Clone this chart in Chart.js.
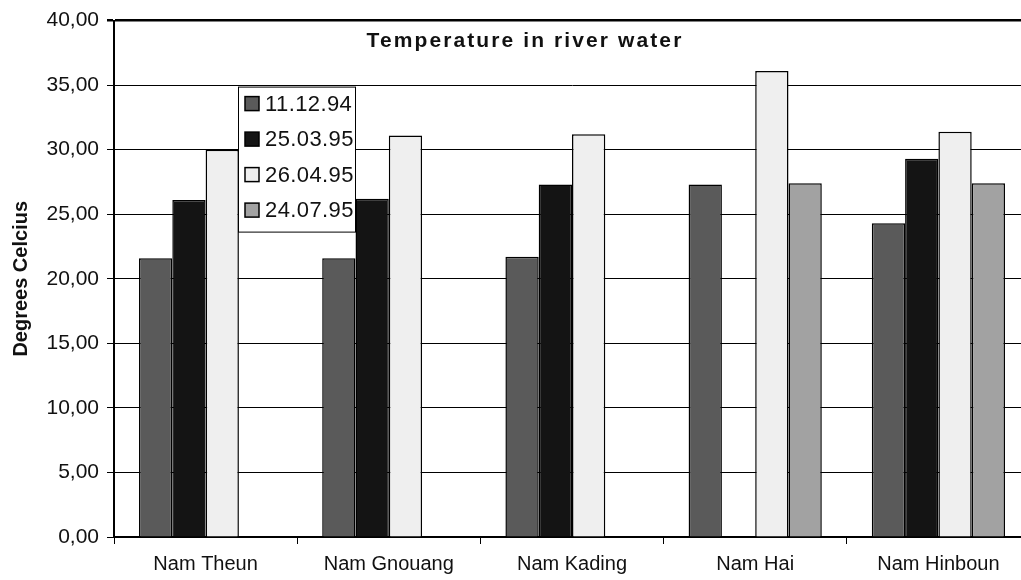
<!DOCTYPE html>
<html>
<head>
<meta charset="utf-8">
<script src="https://cdn.jsdelivr.net/npm/chart.js@4"></script>
<style>
  html, body { margin: 0; padding: 0; background: #fff; overflow: hidden; }
  #wrap { width: 1030px; height: 580px; }
</style>
</head>
<body>
<div id="wrap"><canvas id="riverChart"></canvas></div>
<script>
// values
const rivers = ['Nam Theun', 'Nam Gnouang', 'Nam Kading', 'Nam Hai', 'Nam Hinboun'];
const dates = ['11.12.94', '25.03.95', '26.04.95', '24.07.95'];
const temp941211 = [21.6, 21.6, 21.7, 27.3, 24.3];
const temp950325 = [26.1, 26.2, 27.3, null, 29.3];
const temp950426 = [30.0, 31.1, 31.2, 36.1, 31.4];
const temp950724 = [null, null, null, 27.4, 27.4];
const yTicks = [0, 5, 10, 15, 20, 25, 30, 35, 40];

const fills = ['#5a5a5a', '#141414', '#efefef', '#a2a2a2'];
const FONT = '"Liberation Sans", Arial, Helvetica, sans-serif';

// title and legend sit inside the plot, so draw them ourselves
const insidePlugin = {
  id: 'inside',
  afterDatasetsDraw(chart) {
    const ctx = chart.ctx;
    const a = chart.chartArea;
    ctx.save();
    // title
    ctx.fillStyle = '#111';
    ctx.font = 'bold 21px ' + FONT;
    ctx.textAlign = 'center';
    ctx.textBaseline = 'middle';
    try { ctx.letterSpacing = '2.1px'; } catch (e) {}
    ctx.fillText('Temperature in river water', a.left + 411, a.top + 21);

    // legend box
    const bx = a.left + 124, by = a.top + 66, bw = 117, bh = 145;
    try { ctx.letterSpacing = '0px'; } catch (e) {}
    ctx.fillStyle = '#fff';
    ctx.fillRect(bx, by, bw, bh);
    ctx.strokeStyle = '#000';
    ctx.lineWidth = 1;
    ctx.strokeRect(bx + 0.5, by + 0.5, bw, bh);
    ctx.font = '22px ' + FONT;
    ctx.textAlign = 'left';
    try { ctx.letterSpacing = '0.4px'; } catch (e) {}
    chart.data.datasets.forEach((ds, i) => {
      const cy = by + 17 + i * 35.5;
      ctx.fillStyle = ds.backgroundColor;
      ctx.fillRect(bx + 7, cy - 7, 14, 14);
      ctx.strokeStyle = '#000';
      ctx.lineWidth = 1.5;
      ctx.strokeRect(bx + 7, cy - 7, 14, 14);
      ctx.fillStyle = '#111';
      ctx.fillText(ds.label, bx + 27, cy + 1);
    });
    ctx.restore();
  }
};

const series = [temp941211, temp950325, temp950426, temp950724];

new Chart(document.getElementById('riverChart'), {
  type: 'bar',
  data: {
    labels: rivers,
    datasets: series.map((vals, i) => ({
      label: dates[i],
      data: vals,
      backgroundColor: fills[i],
      borderColor: '#000',
      borderWidth: 1.5,
      barPercentage: 1.0,
      categoryPercentage: 0.727
    }))
  },
  options: {
    responsive: true,
    maintainAspectRatio: false,
    animation: false,
    layout: { padding: { top: 8, right: 0, left: 0, bottom: 0 } },
    plugins: {
      legend: { display: false },
      title: { display: false },
      tooltip: { enabled: false }
    },
    scales: {
      x: {
        afterFit(axis) { axis.height = 43; },
        grid: {
          offset: true,
          drawOnChartArea: false,
          drawTicks: true,
          tickLength: 7,
          color: '#000'
        },
        border: { color: '#000', width: 2 },
        ticks: {
          color: '#111',
          padding: 8,
          font: { family: FONT, size: 20 }
        },
        title: { display: false }
      },
      y: {
        min: 0,
        max: 40,
        afterFit(axis) { axis.width = 114; },
        afterBuildTicks(axis) { axis.ticks = yTicks.map(v => ({ value: v })); },
        grid: {
          color: '#000',
          lineWidth: c => (c.tick && c.tick.value === 40 ? 2.5 : 1),
          tickLength: 7
        },
        border: { color: '#000', width: 2 },
        ticks: {
          color: '#111',
          padding: 8,
          font: { family: FONT, size: 21 },
          callback: v => v.toFixed(2).replace('.', ',')
        },
        title: {
          display: true,
          text: 'Degrees Celcius',
          color: '#111',
          padding: { top: 9, bottom: 0 },
          font: { family: FONT, size: 20, weight: 'bold' }
        }
      }
    }
  },
  plugins: [insidePlugin]
});
</script>
</body>
</html>
